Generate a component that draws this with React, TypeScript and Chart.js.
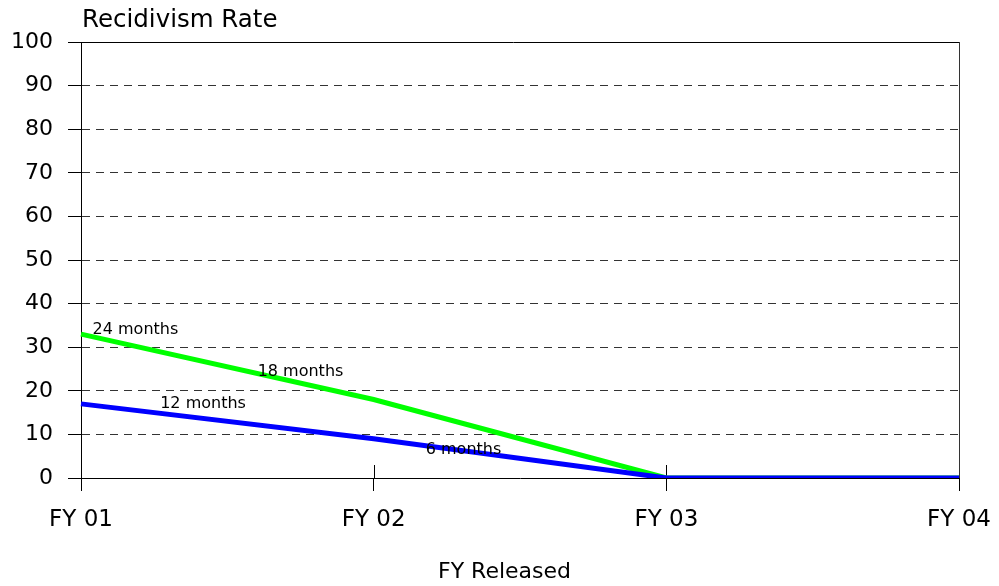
import React, { useEffect, useRef } from "react";
import { Chart, registerables } from "chart.js";

Chart.register(...registerables);

const categories = ["FY 01", "FY 02", "FY 03", "FY 04"];
const greenSeriesName = "24 / 18 months";
const greenValues = [33, 18, 0, 0];
const blueSeriesName = "12 / 6 months";
const blueValues = [17, 9, 0, 0];
const yMin = 0;
const yMax = 100;
const yStep = 10;

const yTitle = "Recidivism Rate";
const xTitle = "FY Released";

// annotation labels: text, category position (fractional index), value
const noteTexts = ["24 months", "18 months", "12 months", "6 months"];
const notePositions = [0.186, 0.75, 0.417, 1.307];
const noteValues = [34.4, 24.7, 17.4, 6.9];

const FONT = "'DejaVu Sans', sans-serif";

const decorPlugin = {
  id: "decor",
  beforeDatasetsDraw(chart: any) {
    const { ctx, chartArea } = chart;
    const x = chart.scales.x;
    const y = chart.scales.y;
    ctx.save();
    // top border
    ctx.strokeStyle = "#000";
    ctx.lineWidth = 1;
    ctx.beginPath();
    ctx.moveTo(chartArea.left - 13, y.getPixelForValue(yMax) + 0.5);
    ctx.lineTo(chartArea.right, y.getPixelForValue(yMax) + 0.5);
    ctx.stroke();
    // right border
    ctx.strokeStyle = "#333";
    ctx.beginPath();
    ctx.moveTo(chartArea.right + 0.5, chartArea.top);
    ctx.lineTo(chartArea.right + 0.5, chartArea.bottom);
    ctx.stroke();
    // inner part of x ticks
    ctx.strokeStyle = "#000";
    for (let i = 1; i < categories.length - 1; i++) {
      const px = Math.round(x.getPixelForValue(i)) + 0.5;
      ctx.beginPath();
      ctx.moveTo(px, chartArea.bottom - 13);
      ctx.lineTo(px, chartArea.bottom);
      ctx.stroke();
    }
    ctx.restore();
  },
  afterDatasetsDraw(chart: any) {
    const { ctx, chartArea } = chart;
    const x = chart.scales.x;
    const y = chart.scales.y;
    ctx.save();
    ctx.fillStyle = "#000";
    ctx.font = `16px ${FONT}`;
    ctx.textAlign = "center";
    ctx.textBaseline = "alphabetic";
    for (let i = 0; i < noteTexts.length; i++) {
      const px = x.getPixelForValue(notePositions[i]);
      const py = y.getPixelForValue(noteValues[i]);
      ctx.fillText(noteTexts[i], px, py + 6);
    }
    ctx.font = `24.5px ${FONT}`;
    ctx.textAlign = "left";
    ctx.fillText(yTitle, chartArea.left + 1, chartArea.top - 15);
    ctx.font = `22px ${FONT}`;
    ctx.textAlign = "center";
    ctx.fillText(xTitle, chart.width / 2 + 5, chart.height - 8);
    ctx.restore();
  },
};

export default function App() {
  const ref = useRef<HTMLCanvasElement | null>(null);
  useEffect(() => {
    if (!ref.current) return;
    const chart = new Chart(ref.current, {
      type: "line",
      data: {
        labels: categories,
        datasets: [
          {
            label: blueSeriesName,
            data: blueValues,
            borderColor: "#0000ff",
            backgroundColor: "#0000ff",
            borderWidth: 5,
            pointRadius: 0,
            tension: 0,
            fill: false,
          },
          {
            label: greenSeriesName,
            data: greenValues,
            borderColor: "#00ff00",
            backgroundColor: "#00ff00",
            borderWidth: 5,
            pointRadius: 0,
            tension: 0,
            fill: false,
          },
        ],
      },
      options: {
        animation: false,
        responsive: true,
        maintainAspectRatio: false,
        layout: { padding: { left: 0, right: 40, top: 42, bottom: 0 } },
        plugins: {
          legend: { display: false },
          tooltip: { enabled: false },
          title: { display: false },
        },
        scales: {
          x: {
            type: "category",
            offset: false,
            afterFit: (s: any) => {
              s.height = 108;
              s.paddingRight = 0;
              s.paddingLeft = 0;
            },
            grid: {
              display: true,
              drawOnChartArea: false,
              drawTicks: true,
              tickLength: 13,
              color: "#000",
              tickColor: "#000",
            },
            border: { display: true, color: "#000", width: 1 },
            ticks: {
              color: "#000",
              padding: 15,
              maxRotation: 0,
              autoSkip: false,
              font: { family: FONT, size: 23 },
            },
          },
          y: {
            min: yMin,
            max: yMax,
            afterFit: (s: any) => {
              s.width = 81;
              s.paddingTop = 0;
              s.paddingBottom = 0;
            },
            grid: {
              display: true,
              drawOnChartArea: true,
              drawTicks: true,
              tickLength: 13,
              color: (c: any) =>
                c.tick && (c.tick.value === yMax || c.tick.value === yMin) ? "rgba(0,0,0,0)" : "#333",
              tickColor: "#000",
              tickBorderDash: [],
            },
            border: { display: true, color: "#000", width: 1, dash: [8, 6] },
            ticks: {
              stepSize: yStep,
              color: "#000",
              padding: 15,
              font: { family: FONT, size: 22 },
            },
          },
        },
      },
      plugins: [decorPlugin],
    });
    return () => chart.destroy();
  }, []);
  return (
    <div style={{ position: "fixed", left: 0, top: 0, width: 999, height: 586, background: "#fff" }}>
      <canvas ref={ref} />
    </div>
  );
}
